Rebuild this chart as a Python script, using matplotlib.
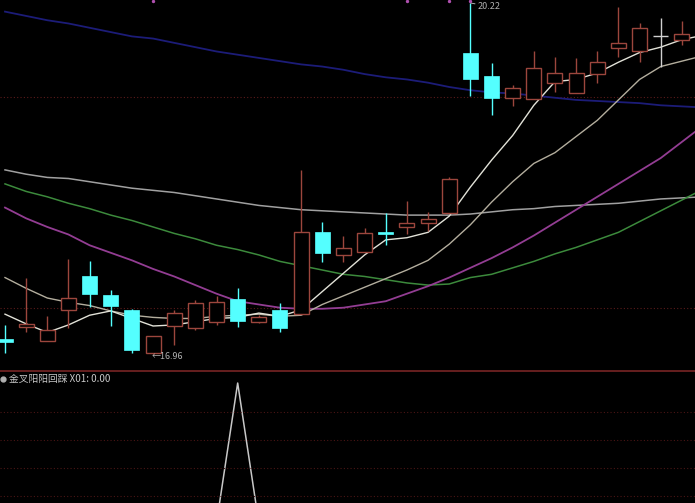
import matplotlib
matplotlib.use("Agg")
import matplotlib.pyplot as plt
from matplotlib.lines import Line2D
import numpy as np

plt.rcParams['font.family'] = ['Noto Sans CJK SC', 'DejaVu Sans']

# K线数据 (开, 收, 高, 低)
opens = [17.10, 17.21, 17.08, 17.37, 17.68, 17.51, 17.37, 16.97, 17.22, 17.20, 17.26,
         17.47, 17.26, 17.37, 17.33, 18.09, 17.88, 17.91, 18.09, 18.14, 18.18, 18.27,
         19.76, 19.54, 19.34, 19.33, 19.48, 19.38, 19.56, 19.80, 19.77, 19.91, 19.88, 20.02]
closes = [17.07, 17.24, 17.18, 17.48, 17.52, 17.41, 17.00, 17.13, 17.34, 17.43, 17.44,
          17.27, 17.30, 17.20, 18.09, 17.90, 17.94, 18.08, 18.07, 18.18, 18.21, 18.59,
          19.51, 19.34, 19.43, 19.62, 19.57, 19.57, 19.67, 19.85, 19.99, 19.91, 19.93, 19.99]
highs = [17.23, 17.67, 17.31, 17.84, 17.82, 17.55, 17.38, 17.13, 17.37, 17.46, 17.50,
         17.57, 17.32, 17.43, 18.67, 18.19, 18.06, 18.13, 18.27, 18.38, 18.28, 18.60,
         20.22, 19.66, 19.46, 19.77, 19.72, 19.71, 19.77, 20.18, 20.03, 20.08, 20.05, 20.06]
lows = [16.97, 17.16, 17.08, 17.20, 17.40, 17.22, 16.97, 16.96, 17.04, 17.18, 17.23,
        17.21, 17.25, 17.16, 17.33, 17.81, 17.81, 17.91, 17.97, 18.07, 18.10, 18.27,
        19.36, 19.18, 19.26, 19.33, 19.39, 19.38, 19.48, 19.72, 19.67, 19.63, 19.83, 19.93]

# 均线
ma5 = [17.33, 17.24, 17.16, 17.23, 17.32, 17.36, 17.29, 17.22, 17.23, 17.26, 17.29,
       17.30, 17.34, 17.31, 17.37, 17.54, 17.71, 17.88, 18.02, 18.04, 18.09, 18.24,
       18.51, 18.76, 18.99, 19.27, 19.49, 19.51, 19.57, 19.67, 19.76, 19.81, 19.88, 19.92]
ma10 = [17.67, 17.57, 17.48, 17.44, 17.41, 17.36, 17.32, 17.30, 17.29, 17.29, 17.31,
        17.32, 17.33, 17.31, 17.32, 17.42, 17.50, 17.58, 17.66, 17.74, 17.83, 17.98,
        18.16, 18.37, 18.56, 18.73, 18.83, 18.98, 19.13, 19.32, 19.51, 19.63, 19.68, 19.73]
ma20 = [18.32, 18.22, 18.14, 18.07, 17.97, 17.90, 17.83, 17.75, 17.68, 17.60, 17.52,
        17.45, 17.42, 17.39, 17.38, 17.38, 17.39, 17.42, 17.45, 17.52, 17.59, 17.67,
        17.76, 17.85, 17.95, 18.06, 18.18, 18.30, 18.42, 18.54, 18.66, 18.78, 18.93, 19.08]
ma30 = [18.54, 18.47, 18.42, 18.36, 18.31, 18.25, 18.20, 18.14, 18.08, 18.03, 17.97,
        17.93, 17.88, 17.82, 17.78, 17.74, 17.70, 17.68, 17.65, 17.62, 17.60, 17.61,
        17.67, 17.70, 17.76, 17.82, 17.89, 17.95, 18.02, 18.09, 18.19, 18.29, 18.39, 18.49]
ma60 = [18.67, 18.63, 18.60, 18.59, 18.56, 18.53, 18.50, 18.48, 18.46, 18.43, 18.40,
        18.37, 18.34, 18.32, 18.30, 18.29, 18.28, 18.27, 18.26, 18.25, 18.25, 18.25,
        18.26, 18.28, 18.30, 18.31, 18.33, 18.34, 18.35, 18.36, 18.38, 18.40, 18.41, 18.42]
ma120 = [20.14, 20.10, 20.06, 20.03, 19.99, 19.95, 19.91, 19.89, 19.85, 19.81, 19.77,
         19.74, 19.71, 19.68, 19.65, 19.63, 19.60, 19.56, 19.53, 19.51, 19.48, 19.44,
         19.41, 19.39, 19.38, 19.36, 19.34, 19.32, 19.31, 19.30, 19.29, 19.27, 19.26, 19.25]

# 副图信号
x01 = [0, 0, 0, 0, 0, 0, 0, 0, 0, 0, 0, 1, 0, 0, 0, 0, 0, 0, 0, 0, 0, 0,
       0, 0, 0, 0, 0, 0, 0, 0, 0, 0, 0, 0]
top_marks = [7, 19, 21, 22]
legend_text = "金叉阳阳回踩 X01: 0.00"

UP = '#9c463d'
DOWN = '#54ffff'
BG = 'black'

n = len(opens)
idx = np.arange(n)

fig = plt.figure(figsize=(6.95, 5.03), dpi=100, facecolor=BG)
ax = fig.add_axes([0, 132 / 503, 1, 371 / 503], facecolor=BG)
ax2 = fig.add_axes([0, 0, 1, 132 / 503], facecolor=BG)

# 网格虚线
for yv in [19.347, 17.387]:
    ax.axhline(yv, color='#5a1a1a', lw=0.8, ls=(0, (1, 2)))

# 均线
ax.plot(idx, ma120, color='#1c1c78', lw=1.3)
ax.plot(idx, ma60, color='#a0a0a0', lw=1.1)
ax.plot(idx, ma30, color='#3c8a3c', lw=1.1)
ax.plot(idx, ma20, color='#933d93', lw=1.3)
ax.plot(idx, ma10, color='#b4ae9e', lw=1.0)
ax.plot(idx, ma5, color='#e2e2d8', lw=1.0)

# K线
w = 0.71
for i in range(n):
    o, c, h, l = opens[i], closes[i], highs[i], lows[i]
    if c > o:
        ax.vlines(i, h, c, color=UP, lw=1)
        ax.vlines(i, o, l, color=UP, lw=1)
        ax.add_patch(plt.Rectangle((i - w / 2, o), w, c - o, facecolor=BG,
                                   edgecolor=UP, lw=1, zorder=3))
    elif c < o:
        ax.vlines(i, l, h, color=DOWN, lw=1, zorder=3)
        ax.add_patch(plt.Rectangle((i - w / 2, c), w, max(o - c, 0.02),
                                   facecolor=DOWN, edgecolor=DOWN, lw=0.5, zorder=4))
    else:
        ax.vlines(i, l, h, color='#d0d0d0', lw=1, zorder=3)
        ax.hlines(o, i - w / 2, i + w / 2, color='#d0d0d0', lw=1, zorder=3)

ax.scatter(top_marks, [20.24] * len(top_marks), s=2, color='#b050b0', zorder=5)

# 最高最低标注
lo_i = int(np.argmin(lows))
hi_i = int(np.argmax(highs))
ax.text(lo_i - 0.05, lows[lo_i] - 0.025, '←' + '%.2f' % lows[lo_i],
        color='#b0b0b0', fontsize=6.5, va='center', ha='left')
ax.annotate('%.2f' % highs[hi_i], xy=(hi_i, highs[hi_i]), xytext=(hi_i + 0.35, highs[hi_i] - 0.03),
            color='#b0b0b0', fontsize=6.5, va='center',
            arrowprops=dict(arrowstyle='-', color='#b0b0b0', lw=0.7, shrinkA=0, shrinkB=0))

ax.set_xlim(-0.236, 32.62)
ax.set_ylim(16.802, 20.248)
ax.axis('off')

# 副图
ax2.plot(idx, x01, color='#c8c8c8', lw=1.1)
for yv in [0.793, 0.593, 0.393, 0.193]:
    ax2.axhline(yv, color='#4a1515', lw=0.8, ls=(0, (1, 2)))
ax2.set_xlim(-0.236, 32.62)
ax2.set_ylim(0.143, 1.086)
ax2.axis('off')

fig.add_artist(Line2D([0, 1], [1 - 371 / 503] * 2, color='#6e2222', lw=1.3,
                      transform=fig.transFigure))
fig.add_artist(Line2D([3 / 695], [1 - 379 / 503], marker='o', ms=3.5, color='#b0b0b0',
                      transform=fig.transFigure))
fig.text(9 / 695, 1 - 379 / 503, legend_text, color='#c8c8c8', fontsize=7, va='center')

fig.savefig('out.png', dpi=100, facecolor=BG)
